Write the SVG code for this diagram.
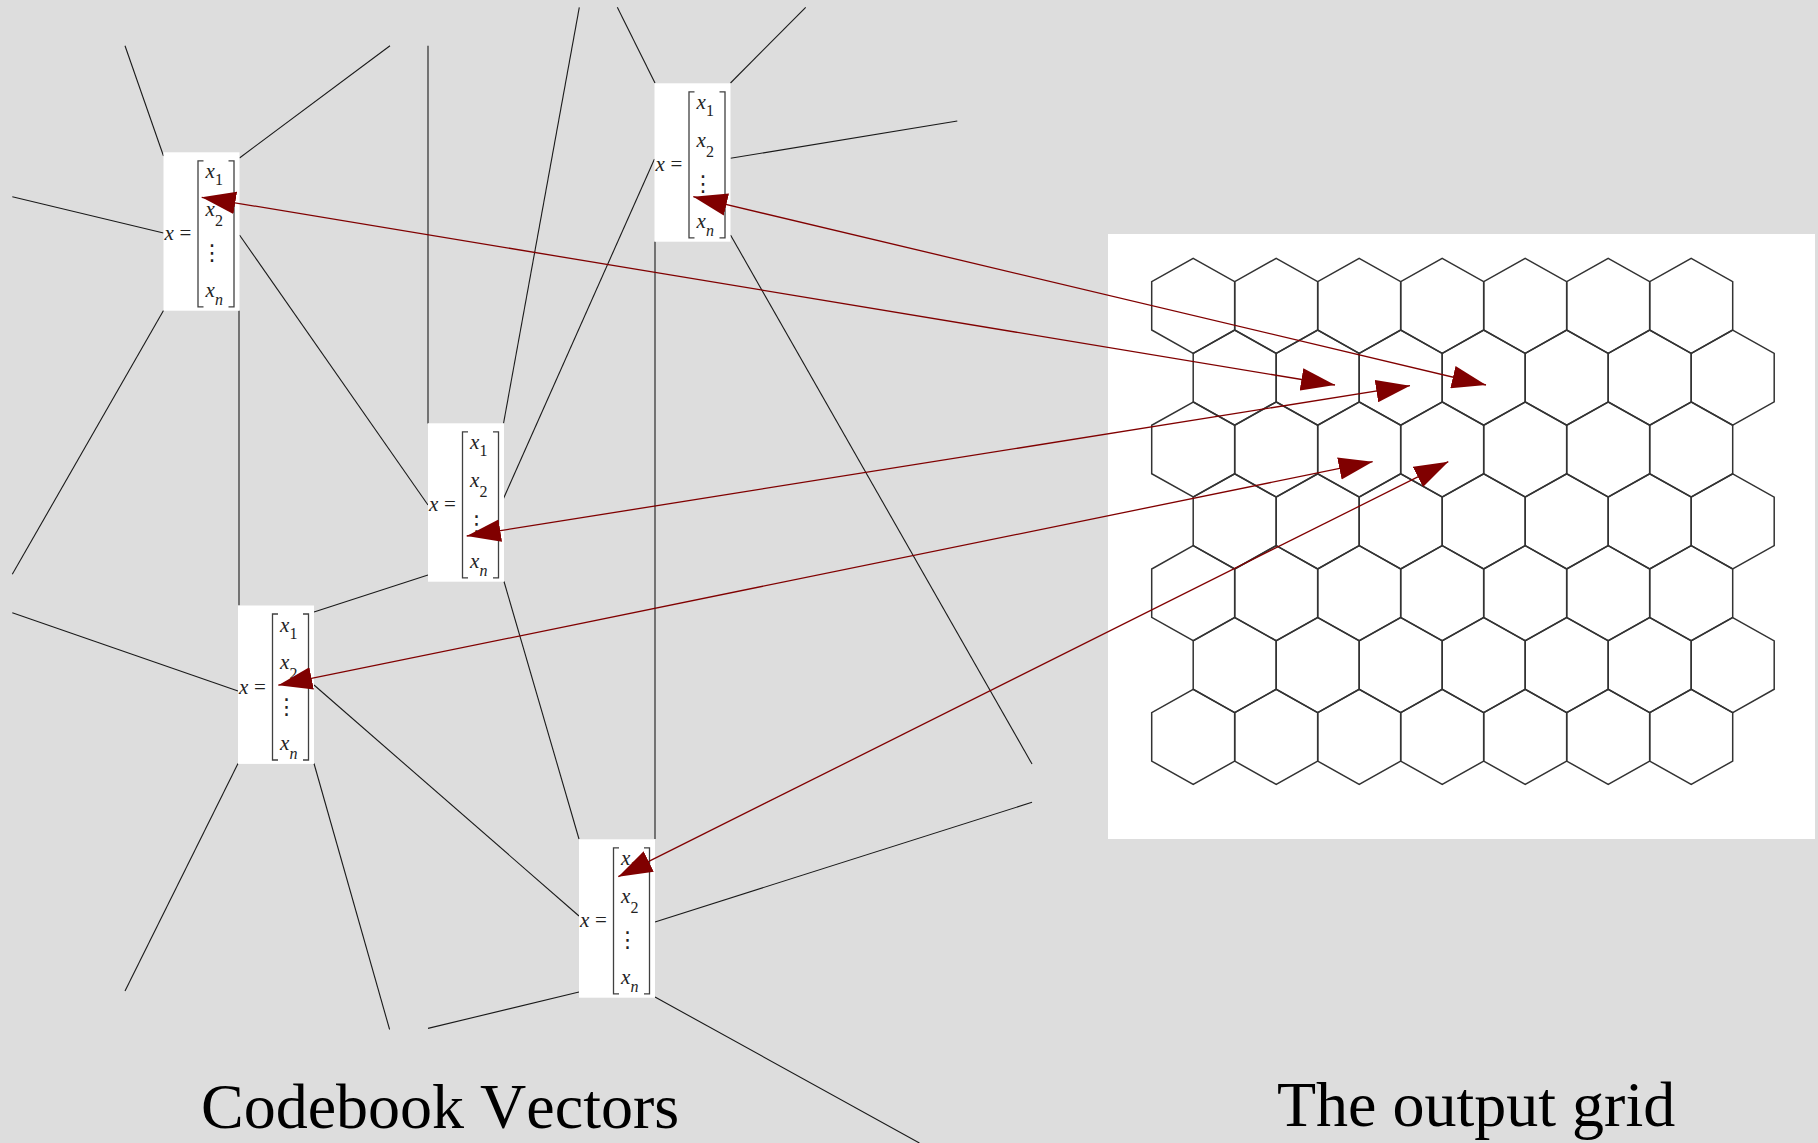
<svg xmlns="http://www.w3.org/2000/svg" xmlns:xlink="http://www.w3.org/1999/xlink" width="1818" height="1143" viewBox="0 0 1818 1143">
  <style>
    .edge { stroke: #1a1a1a; stroke-width: 1.1; fill: none; }
    .link { stroke: #800000; stroke-width: 1.3; fill: none; marker-start: url(#head); marker-end: url(#head); }
    .box { fill: #ffffff; }
    .brk { stroke: #404040; stroke-width: 1.3; fill: none; }
    .v { font-family: "Liberation Serif", "Times New Roman", serif; font-style: italic; font-size: 21px; fill: #222; }
    .eq { font-family: "Liberation Serif", "Times New Roman", serif; font-size: 21px; fill: #222; }
    .s { font-family: "Liberation Serif", "Times New Roman", serif; font-size: 16px; fill: #222; }
    .si { font-family: "Liberation Serif", "Times New Roman", serif; font-style: italic; font-size: 16px; fill: #222; }
    .dots { font-family: "DejaVu Serif", "DejaVu Sans", serif; font-size: 22px; fill: #222; text-anchor: middle; }
    .hex { fill: none; stroke: #333333; stroke-width: 1.5; stroke-linejoin: miter; }
    .caption { font-family: "Liberation Serif", "Times New Roman", serif; font-size: 64px; fill: #000; font-kerning: none; }
  </style>
  <defs>
    <marker id="head" markerUnits="userSpaceOnUse" markerWidth="34" markerHeight="23" viewBox="0 0 33 22" refX="33" refY="11" orient="auto-start-reverse">
      <path d="M0,0 L33,11 L0,22 z" fill="#800000"/>
    </marker>
    <!-- pointy-top hexagon centred on the origin -->
    <polygon id="hex" class="hex" points="0,-47.5 41.5,-24.2 41.5,24.2 0,47.5 -41.5,24.2 -41.5,-24.2"/>
  </defs>

  <rect width="1818" height="1143" fill="#dddddd"/>

  <!-- connectors between codebook vectors -->
  <g id="connectors">
    <line class="edge" x1="125" y1="45.7" x2="163.5" y2="156"/>
    <line class="edge" x1="390" y1="45.7" x2="239.5" y2="158"/>
    <line class="edge" x1="12.3" y1="196.7" x2="163.5" y2="233"/>
    <line class="edge" x1="239.5" y1="235" x2="428" y2="505"/>
    <line class="edge" x1="163.5" y1="310.5" x2="12.3" y2="574.3"/>
    <line class="edge" x1="239" y1="310.5" x2="239" y2="605.5"/>
    <line class="edge" x1="428" y1="45.7" x2="428" y2="423.5"/>
    <line class="edge" x1="579.3" y1="7.3" x2="503.5" y2="423.5"/>
    <line class="edge" x1="654.5" y1="159" x2="503.5" y2="498.5"/>
    <line class="edge" x1="428" y1="575" x2="314" y2="612"/>
    <line class="edge" x1="504" y1="581.5" x2="579" y2="839"/>
    <line class="edge" x1="12.3" y1="612.7" x2="238" y2="691"/>
    <line class="edge" x1="314" y1="685" x2="579" y2="916"/>
    <line class="edge" x1="238" y1="763.5" x2="125" y2="991"/>
    <line class="edge" x1="314" y1="763.5" x2="389.6" y2="1029.5"/>
    <line class="edge" x1="579" y1="992" x2="428" y2="1028.4"/>
    <line class="edge" x1="655" y1="922" x2="1032" y2="802.3"/>
    <line class="edge" x1="655" y1="997" x2="919.4" y2="1143"/>
    <line class="edge" x1="655" y1="839" x2="655" y2="241.5"/>
    <line class="edge" x1="617.3" y1="7.3" x2="655" y2="83"/>
    <line class="edge" x1="805.7" y1="7.3" x2="730.5" y2="83"/>
    <line class="edge" x1="957.3" y1="121" x2="730.5" y2="158.3"/>
    <line class="edge" x1="730.5" y1="235" x2="1032" y2="764"/>
  </g>

  <!-- output grid panel -->
  <g id="output-grid">
    <rect x="1108" y="234" width="707" height="605" fill="#ffffff"/>
    <g id="row-0">
      <use href="#hex" x="1193.2" y="305.8"/><use href="#hex" x="1276.2" y="305.8"/><use href="#hex" x="1359.2" y="305.8"/><use href="#hex" x="1442.2" y="305.8"/><use href="#hex" x="1525.2" y="305.8"/><use href="#hex" x="1608.2" y="305.8"/><use href="#hex" x="1691.2" y="305.8"/>
    </g>
    <g id="row-1">
      <use href="#hex" x="1234.7" y="377.65"/><use href="#hex" x="1317.7" y="377.65"/><use href="#hex" x="1400.7" y="377.65"/><use href="#hex" x="1483.7" y="377.65"/><use href="#hex" x="1566.7" y="377.65"/><use href="#hex" x="1649.7" y="377.65"/><use href="#hex" x="1732.7" y="377.65"/>
    </g>
    <g id="row-2">
      <use href="#hex" x="1193.2" y="449.5"/><use href="#hex" x="1276.2" y="449.5"/><use href="#hex" x="1359.2" y="449.5"/><use href="#hex" x="1442.2" y="449.5"/><use href="#hex" x="1525.2" y="449.5"/><use href="#hex" x="1608.2" y="449.5"/><use href="#hex" x="1691.2" y="449.5"/>
    </g>
    <g id="row-3">
      <use href="#hex" x="1234.7" y="521.35"/><use href="#hex" x="1317.7" y="521.35"/><use href="#hex" x="1400.7" y="521.35"/><use href="#hex" x="1483.7" y="521.35"/><use href="#hex" x="1566.7" y="521.35"/><use href="#hex" x="1649.7" y="521.35"/><use href="#hex" x="1732.7" y="521.35"/>
    </g>
    <g id="row-4">
      <use href="#hex" x="1193.2" y="593.2"/><use href="#hex" x="1276.2" y="593.2"/><use href="#hex" x="1359.2" y="593.2"/><use href="#hex" x="1442.2" y="593.2"/><use href="#hex" x="1525.2" y="593.2"/><use href="#hex" x="1608.2" y="593.2"/><use href="#hex" x="1691.2" y="593.2"/>
    </g>
    <g id="row-5">
      <use href="#hex" x="1234.7" y="665.05"/><use href="#hex" x="1317.7" y="665.05"/><use href="#hex" x="1400.7" y="665.05"/><use href="#hex" x="1483.7" y="665.05"/><use href="#hex" x="1566.7" y="665.05"/><use href="#hex" x="1649.7" y="665.05"/><use href="#hex" x="1732.7" y="665.05"/>
    </g>
    <g id="row-6">
      <use href="#hex" x="1193.2" y="736.9"/><use href="#hex" x="1276.2" y="736.9"/><use href="#hex" x="1359.2" y="736.9"/><use href="#hex" x="1442.2" y="736.9"/><use href="#hex" x="1525.2" y="736.9"/><use href="#hex" x="1608.2" y="736.9"/><use href="#hex" x="1691.2" y="736.9"/>
    </g>
  </g>

  <!-- codebook vector nodes -->
  <g id="vector-a" transform="translate(163.5,152.3)">
    <rect class="box" width="76" height="158.4"/>
    <text class="v" x="1" y="88">x</text><text class="eq" x="16" y="88">=</text>
    <path class="brk" d="M40,8.5 H34.5 V154.5 H40 M65,8.5 H70.5 V154.5 H65"/>
    <text class="v" x="42" y="26">x</text><text class="s" x="51.5" y="33">1</text>
    <text class="v" x="42" y="63.5">x</text><text class="s" x="51.5" y="73.5">2</text>
    <text class="dots" x="48.4" y="108">⋮</text>
    <text class="v" x="42" y="144.5">x</text><text class="si" x="51.5" y="153">n</text>
  </g>
  <g id="vector-b" transform="translate(428,423.3)">
    <rect class="box" width="76" height="158.4"/>
    <text class="v" x="1" y="88">x</text><text class="eq" x="16" y="88">=</text>
    <path class="brk" d="M40,8.5 H34.5 V154.5 H40 M65,8.5 H70.5 V154.5 H65"/>
    <text class="v" x="42" y="26">x</text><text class="s" x="51.5" y="33">1</text>
    <text class="v" x="42" y="63.5">x</text><text class="s" x="51.5" y="73.5">2</text>
    <text class="dots" x="48.4" y="108">⋮</text>
    <text class="v" x="42" y="144.5">x</text><text class="si" x="51.5" y="153">n</text>
  </g>
  <g id="vector-c" transform="translate(238,605.5)">
    <rect class="box" width="76" height="158.4"/>
    <text class="v" x="1" y="88">x</text><text class="eq" x="16" y="88">=</text>
    <path class="brk" d="M40,8.5 H34.5 V154.5 H40 M65,8.5 H70.5 V154.5 H65"/>
    <text class="v" x="42" y="26">x</text><text class="s" x="51.5" y="33">1</text>
    <text class="v" x="42" y="63.5">x</text><text class="s" x="51.5" y="73.5">2</text>
    <text class="dots" x="48.4" y="108">⋮</text>
    <text class="v" x="42" y="144.5">x</text><text class="si" x="51.5" y="153">n</text>
  </g>
  <g id="vector-d" transform="translate(579,839.3)">
    <rect class="box" width="76" height="158.4"/>
    <text class="v" x="1" y="88">x</text><text class="eq" x="16" y="88">=</text>
    <path class="brk" d="M40,8.5 H34.5 V154.5 H40 M65,8.5 H70.5 V154.5 H65"/>
    <text class="v" x="42" y="26">x</text><text class="s" x="51.5" y="33">1</text>
    <text class="v" x="42" y="63.5">x</text><text class="s" x="51.5" y="73.5">2</text>
    <text class="dots" x="48.4" y="108">⋮</text>
    <text class="v" x="42" y="144.5">x</text><text class="si" x="51.5" y="153">n</text>
  </g>
  <g id="vector-e" transform="translate(654.5,83.3)">
    <rect class="box" width="76" height="158.4"/>
    <text class="v" x="1" y="88">x</text><text class="eq" x="16" y="88">=</text>
    <path class="brk" d="M40,8.5 H34.5 V154.5 H40 M65,8.5 H70.5 V154.5 H65"/>
    <text class="v" x="42" y="26">x</text><text class="s" x="51.5" y="33">1</text>
    <text class="v" x="42" y="63.5">x</text><text class="s" x="51.5" y="73.5">2</text>
    <text class="dots" x="48.4" y="108">⋮</text>
    <text class="v" x="42" y="144.5">x</text><text class="si" x="51.5" y="153">n</text>
  </g>

  <!-- mappings between vectors and grid cells -->
  <g id="mappings">
    <line class="link" x1="201.7" y1="197.3" x2="1335" y2="385"/>
    <line class="link" x1="693.3" y1="196.7" x2="1486" y2="385"/>
    <line class="link" x1="466.7" y1="536" x2="1410" y2="385.7"/>
    <line class="link" x1="278.3" y1="685.2" x2="1372.7" y2="461.7"/>
    <line class="link" x1="618.3" y1="876.7" x2="1448.3" y2="461.7"/>
  </g>

  <text class="caption" x="201" y="1128">Codebook Vectors</text>
  <text class="caption" x="1277" y="1126">The output grid</text>
</svg>
